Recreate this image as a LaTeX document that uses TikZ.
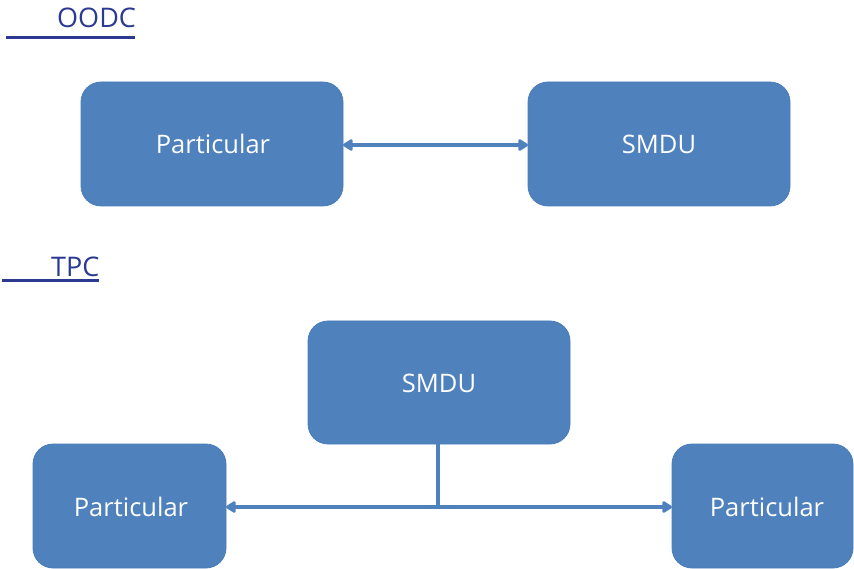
\documentclass[tikz,border=0pt]{standalone}
\usepackage{fontspec}
\setmainfont{Open Sans}
\usetikzlibrary{arrows.meta}
\definecolor{boxblue}{HTML}{4F81BD}
\definecolor{boxedge}{HTML}{4A7DBA}
\definecolor{headblue}{HTML}{2B3990}
\tikzset{
  box/.style={draw=boxedge, line width=0.8pt, fill=boxblue, rounded corners=20pt},
  boxtext/.style={text=white, font=\fontsize{25.5}{30}\selectfont},
  link/.style={draw=boxblue, line width=3.8pt, {Triangle[width=13pt,length=11pt,round]}-{Triangle[width=13pt,length=11pt,round]}},
  stem/.style={draw=boxblue, line width=3.8pt},
  head/.style={text=headblue, font=\fontsize{27}{32}\selectfont, inner sep=0pt, anchor=base west},
  uline/.style={draw=headblue, line width=3.6pt}
}
\begin{document}
\begin{tikzpicture}[x=1pt,y=-1pt]
\useasboundingbox (0,0) rectangle (854,569);
% headers
\node[head] (h1) at (57,28) {OODC};
\coordinate (u1a) at (6,37.5);
\coordinate (u1b) at (135,37.5);
\draw[uline] (u1a) -- (u1b);
\node[head] (h2) at (51,277) {TPC};
\coordinate (u2a) at (2,280.5);
\coordinate (u2b) at (99,280.5);
\draw[uline] (u2a) -- (u2b);
% OODC boxes
\path[box] (81,82) rectangle (343,206);
\node[boxtext] (p1) at (213,144) {Particular};
\path[box] (528,82) rectangle (790,206);
\node[boxtext] (s1) at (659,144) {SMDU};
\coordinate (p1e) at (343,145);
\coordinate (s1w) at (528,145);
\draw[link] (p1e) -- (s1w);
% TPC boxes
\path[box] (308,321) rectangle (570,444);
\node[boxtext] (s2) at (439,383) {SMDU};
\path[box] (33,444) rectangle (226,568);
\node[boxtext] (p2) at (131,507) {Particular};
\path[box] (672,444) rectangle (853,568);
\node[boxtext] (p3) at (767,507) {Particular};
\coordinate (s2s) at (438,444);
\coordinate (j) at (438,507);
\coordinate (p2e) at (226,507);
\coordinate (p3w) at (672,507);
\draw[stem] (s2s) -- (j);
\draw[link] (p2e) -- (p3w);
\end{tikzpicture}
\end{document}
